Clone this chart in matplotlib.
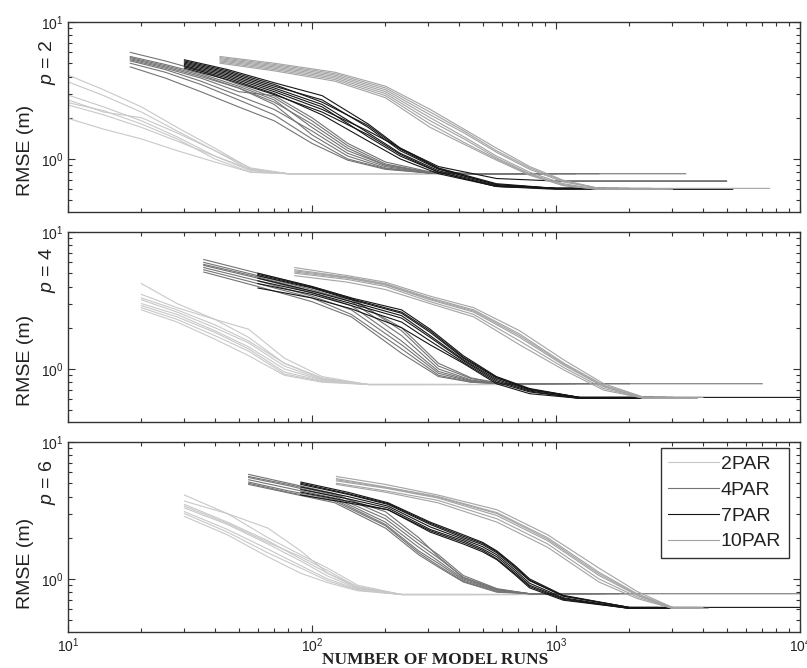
import matplotlib
matplotlib.use('Agg')
import matplotlib.pyplot as plt
from matplotlib.ticker import LogLocator, NullFormatter

# ==================== data ====================
GROUPS = ['2PAR', '4PAR', '7PAR', '10PAR']
P_VALUES = [2, 4, 6]

# ---- p = 2 ----
P2_2PAR_RUNS = [10, 14, 20, 28, 40, 56, 80]
P2_2PAR_RMSE = [
    [4.1, 3.2, 2.4, 1.7, 1.2, 0.85, 0.78],
    [3.66, 2.9, 2.2, 1.6, 1.15, 0.83, 0.78],
    [2.93, 2.4, 1.9, 1.45, 1.05, 0.82, 0.78],
    [2.70, 2.2, 2.0, 1.55, 1.15, 0.86, 0.78],
    [2.58, 2.25, 1.8, 1.4, 1.0, 0.80, 0.78],
    [2.48, 2.1, 1.7, 1.35, 1.05, 0.84, 0.78],
    [1.98, 1.65, 1.4, 1.15, 0.95, 0.80, 0.78],
]
P2_2PAR_END = [1200, 300, 500, 200, 800, 150, 400]

P2_4PAR_RUNS = [18, 25, 35, 50, 70, 100, 140, 200, 300, 450]
P2_4PAR_RMSE = [
    [6.0, 5.2, 4.4, 3.5, 2.8, 1.9, 1.25, 0.92, 0.80, 0.78],
    [5.6, 4.9, 4.2, 3.4, 2.7, 1.7, 1.15, 0.90, 0.80, 0.78],
    [5.4, 4.7, 4.0, 3.3, 2.5, 1.5, 1.05, 0.86, 0.79, 0.78],
    [5.3, 4.6, 3.9, 3.1, 2.9, 2.0, 1.3, 0.95, 0.81, 0.78],
    [5.2, 4.5, 3.7, 2.9, 2.3, 1.6, 1.1, 0.88, 0.79, 0.78],
    [5.0, 4.3, 3.5, 2.7, 2.1, 1.4, 1.0, 0.85, 0.79, 0.78],
    [4.7, 3.9, 3.1, 2.4, 1.9, 1.3, 0.98, 0.84, 0.79, 0.78],
    [5.5, 4.8, 4.1, 3.3, 2.6, 1.8, 1.2, 0.90, 0.80, 0.78],
]
P2_4PAR_END = [3400, 1000, 700, 1500, 900, 600, 1200, 800]

P2_7PAR_RUNS = [30, 45, 70, 110, 170, 230, 330, 570, 1000]
P2_7PAR_RMSE = [
    [5.3, 4.5, 3.6, 2.9, 1.8, 1.2, 0.86, 0.66, 0.61],
    [5.1, 4.3, 3.4, 2.7, 1.7, 1.15, 0.84, 0.65, 0.61],
    [5.0, 4.2, 3.3, 2.5, 1.55, 1.1, 0.82, 0.64, 0.61],
    [4.9, 4.1, 3.2, 2.4, 1.45, 1.05, 0.80, 0.63, 0.61],
    [4.8, 4.0, 3.1, 2.3, 1.6, 1.2, 0.88, 0.72, 0.69],
    [4.7, 3.9, 3.0, 2.1, 1.35, 1.0, 0.78, 0.63, 0.60],
    [5.2, 4.4, 3.5, 2.6, 1.75, 1.18, 0.85, 0.65, 0.61],
    [4.6, 3.8, 2.95, 2.2, 1.5, 1.08, 0.80, 0.63, 0.61],
]
P2_7PAR_END = [1500, 2000, 1200, 1800, 5000, 5300, 1400, 1600]

P2_10PAR_RUNS = [42, 70, 124, 200, 305, 420, 570, 780, 1070, 1500]
P2_10PAR_RMSE = [
    [5.6, 5.0, 4.3, 3.4, 2.3, 1.65, 1.2, 0.88, 0.70, 0.61],
    [5.4, 4.8, 4.1, 3.2, 2.1, 1.55, 1.12, 0.84, 0.68, 0.61],
    [5.3, 4.7, 4.0, 3.1, 2.0, 1.45, 1.05, 0.80, 0.66, 0.60],
    [5.2, 4.6, 3.9, 3.0, 1.9, 1.40, 1.02, 0.78, 0.65, 0.60],
    [5.1, 4.5, 3.8, 2.9, 1.8, 1.32, 1.0, 0.77, 0.64, 0.60],
    [5.0, 4.4, 3.7, 2.8, 1.7, 1.28, 0.98, 0.76, 0.64, 0.60],
    [5.5, 4.9, 4.2, 3.3, 2.2, 1.6, 1.15, 0.86, 0.69, 0.61],
]
P2_10PAR_END = [7500, 2500, 3000, 2000, 2200, 2800, 2400]

# ---- p = 4 ----
P4_2PAR_RUNS = [20, 28, 40, 55, 77, 110, 170]
P4_2PAR_RMSE = [
    [4.2, 3.0, 2.3, 1.7, 1.1, 0.85, 0.77],
    [3.5, 2.8, 2.3, 1.95, 1.2, 0.88, 0.77],
    [3.2, 2.6, 2.0, 1.55, 1.05, 0.84, 0.77],
    [3.0, 2.5, 1.9, 1.45, 1.0, 0.83, 0.77],
    [2.9, 2.4, 1.85, 1.4, 0.95, 0.82, 0.77],
    [2.8, 2.3, 1.75, 1.35, 0.92, 0.81, 0.77],
    [2.7, 2.2, 1.65, 1.25, 0.90, 0.80, 0.77],
    [3.3, 2.7, 2.1, 1.6, 1.1, 0.86, 0.77],
]
P4_2PAR_END = [400, 600, 300, 800, 500, 350, 700, 450]

P4_4PAR_RUNS = [36, 60, 100, 145, 233, 330, 450, 600]
P4_4PAR_RMSE = [
    [6.3, 5.0, 4.0, 3.3, 1.9, 1.05, 0.85, 0.78],
    [6.0, 4.8, 3.8, 3.1, 1.75, 1.0, 0.83, 0.78],
    [5.7, 4.6, 3.6, 2.9, 1.6, 0.96, 0.82, 0.78],
    [5.5, 4.4, 3.4, 2.7, 1.5, 0.93, 0.81, 0.78],
    [5.3, 4.2, 3.3, 2.5, 1.4, 0.90, 0.80, 0.78],
    [5.1, 4.0, 3.1, 2.4, 1.3, 0.88, 0.80, 0.78],
    [5.8, 4.7, 3.7, 3.2, 2.0, 1.1, 0.86, 0.78],
]
P4_4PAR_END = [7000, 1000, 1500, 1200, 900, 2000, 1100]

P4_7PAR_RUNS = [60, 100, 145, 233, 305, 417, 570, 780, 1250]
P4_7PAR_RMSE = [
    [5.0, 4.0, 3.3, 2.7, 1.95, 1.25, 0.88, 0.72, 0.62],
    [4.8, 3.9, 3.2, 2.55, 1.85, 1.2, 0.86, 0.71, 0.62],
    [4.6, 3.7, 3.1, 2.45, 1.75, 1.17, 0.84, 0.70, 0.62],
    [4.4, 3.6, 3.0, 2.35, 1.7, 1.15, 0.82, 0.69, 0.61],
    [4.2, 3.5, 2.9, 2.2, 1.6, 1.12, 0.80, 0.68, 0.61],
    [3.9, 3.3, 2.75, 2.0, 1.5, 1.1, 0.78, 0.66, 0.61],
    [4.9, 3.95, 3.25, 2.6, 1.9, 1.22, 0.87, 0.71, 0.62],
]
P4_7PAR_END = [10000, 3000, 2500, 2000, 3500, 2200, 2800]

P4_10PAR_RUNS = [85, 140, 200, 305, 460, 710, 1080, 1570, 2300]
P4_10PAR_RMSE = [
    [5.5, 4.8, 4.3, 3.4, 2.8, 1.9, 1.16, 0.78, 0.62],
    [5.3, 4.7, 4.2, 3.3, 2.7, 1.8, 1.1, 0.76, 0.62],
    [5.1, 4.6, 4.1, 3.2, 2.6, 1.7, 1.06, 0.74, 0.61],
    [5.0, 4.5, 4.0, 3.1, 2.5, 1.6, 1.02, 0.72, 0.61],
    [4.8, 4.3, 3.8, 3.0, 2.4, 1.5, 0.98, 0.70, 0.61],
    [5.2, 4.65, 4.15, 3.25, 2.65, 1.75, 1.08, 0.75, 0.61],
]
P4_10PAR_END = [4000, 3500, 3000, 3800, 3200, 3600]

# ---- p = 6 ----
P6_2PAR_RUNS = [30, 45, 66, 90, 116, 154, 233]
P6_2PAR_RMSE = [
    [4.1, 3.0, 2.0, 1.5, 1.2, 0.90, 0.77],
    [3.7, 3.0, 2.35, 1.6, 1.1, 0.88, 0.77],
    [3.5, 2.6, 1.9, 1.4, 1.1, 0.86, 0.77],
    [3.3, 2.5, 1.8, 1.35, 1.05, 0.85, 0.77],
    [3.1, 2.3, 1.65, 1.25, 1.0, 0.84, 0.77],
    [3.0, 2.2, 1.55, 1.2, 0.97, 0.83, 0.77],
    [2.86, 2.1, 1.45, 1.1, 0.94, 0.82, 0.77],
    [3.4, 2.55, 1.85, 1.45, 1.15, 0.87, 0.77],
]
P6_2PAR_END = [500, 800, 600, 1000, 700, 450, 900, 650]

P6_4PAR_RUNS = [55, 80, 124, 200, 274, 330, 417, 573, 780]
P6_4PAR_RMSE = [
    [5.8, 5.0, 4.2, 2.9, 1.9, 1.5, 1.06, 0.85, 0.78],
    [5.5, 4.8, 4.0, 2.75, 1.8, 1.42, 1.03, 0.84, 0.78],
    [5.3, 4.6, 3.9, 2.6, 1.7, 1.35, 1.0, 0.83, 0.78],
    [5.1, 4.4, 3.8, 2.5, 1.6, 1.3, 0.98, 0.82, 0.78],
    [4.9, 4.25, 3.6, 2.35, 1.5, 1.22, 0.95, 0.80, 0.78],
    [5.6, 4.9, 4.1, 3.1, 2.0, 1.45, 1.02, 0.84, 0.78],
    [5.0, 4.3, 3.7, 2.45, 1.55, 1.25, 0.96, 0.81, 0.78],
]
P6_4PAR_END = [10000, 1500, 2000, 1200, 1800, 1400, 1600]

P6_7PAR_RUNS = [90, 140, 205, 305, 417, 500, 573, 680, 780, 1070, 2000]
P6_7PAR_RMSE = [
    [5.1, 4.3, 3.6, 2.6, 2.1, 1.85, 1.6, 1.25, 1.0, 0.76, 0.62],
    [4.9, 4.15, 3.5, 2.5, 2.0, 1.78, 1.55, 1.2, 0.97, 0.75, 0.62],
    [4.7, 4.0, 3.4, 2.4, 1.95, 1.72, 1.5, 1.16, 0.93, 0.73, 0.61],
    [4.5, 3.85, 3.3, 2.3, 1.9, 1.66, 1.45, 1.12, 0.90, 0.72, 0.61],
    [4.3, 3.7, 3.2, 2.2, 1.8, 1.58, 1.38, 1.07, 0.86, 0.70, 0.61],
    [4.1, 3.6, 3.2, 2.25, 1.85, 1.62, 1.4, 1.09, 0.88, 0.71, 0.61],
    [5.0, 4.2, 3.55, 2.55, 2.05, 1.82, 1.58, 1.23, 0.98, 0.75, 0.62],
]
P6_7PAR_END = [10000, 3000, 2500, 3500, 2800, 3200, 2600]

P6_10PAR_RUNS = [126, 200, 328, 573, 925, 1500, 2150, 3000]
P6_10PAR_RMSE = [
    [5.6, 4.9, 4.1, 3.2, 2.1, 1.2, 0.81, 0.62],
    [5.4, 4.7, 4.0, 3.05, 2.0, 1.12, 0.78, 0.62],
    [5.2, 4.6, 3.9, 2.9, 1.9, 1.06, 0.76, 0.61],
    [5.0, 4.4, 3.75, 2.75, 1.8, 1.0, 0.74, 0.61],
    [4.9, 4.3, 3.6, 2.6, 1.7, 0.95, 0.72, 0.61],
    [5.3, 4.65, 3.95, 3.0, 1.95, 1.09, 0.77, 0.61],
]
P6_10PAR_END = [4000, 3800, 3500, 4200, 3600, 3900]

# ==================== style ====================
COLORS = ['#c8c8c8', '#747474', '#151515', '#a3a3a3']
TEXT_C = '#222222'

plt.rcParams['font.family'] = ['Liberation Sans', 'DejaVu Sans']
plt.rcParams['mathtext.fontset'] = 'custom'
plt.rcParams['mathtext.rm'] = 'Liberation Sans'
plt.rcParams['mathtext.it'] = 'Liberation Sans:italic'

panels = [
    [(P2_2PAR_RUNS, P2_2PAR_RMSE, P2_2PAR_END),
     (P2_4PAR_RUNS, P2_4PAR_RMSE, P2_4PAR_END),
     (P2_7PAR_RUNS, P2_7PAR_RMSE, P2_7PAR_END),
     (P2_10PAR_RUNS, P2_10PAR_RMSE, P2_10PAR_END)],
    [(P4_2PAR_RUNS, P4_2PAR_RMSE, P4_2PAR_END),
     (P4_4PAR_RUNS, P4_4PAR_RMSE, P4_4PAR_END),
     (P4_7PAR_RUNS, P4_7PAR_RMSE, P4_7PAR_END),
     (P4_10PAR_RUNS, P4_10PAR_RMSE, P4_10PAR_END)],
    [(P6_2PAR_RUNS, P6_2PAR_RMSE, P6_2PAR_END),
     (P6_4PAR_RUNS, P6_4PAR_RMSE, P6_4PAR_END),
     (P6_7PAR_RUNS, P6_7PAR_RMSE, P6_7PAR_END),
     (P6_10PAR_RUNS, P6_10PAR_RMSE, P6_10PAR_END)],
]

W, H = 807, 668
fig = plt.figure(figsize=(W / 100, H / 100), dpi=100)

# panel tops in pixels
tops = [22, 232, 442]
ax_h = 190
lab_p_y = [62, 270, 482]
lab_rmse_y = [150, 360, 563]

for i, (pval, groups) in enumerate(zip(P_VALUES, panels)):
    ax = fig.add_axes([68 / W, 1 - (tops[i] + ax_h) / H, 732 / W, ax_h / H])
    for (runs, rmse, ends), color, name in zip(groups, COLORS, GROUPS):
        for k, (row, end) in enumerate(zip(rmse, ends)):
            xs = list(runs[:len(row)]) + [end]
            ys = list(row) + [row[-1]]
            ax.plot(xs, ys, color=color, lw=0.8,
                    label=name if k == 0 else None)

    ax.set_xscale('log')
    ax.set_yscale('log')
    ax.set_xlim(10, 1e4)
    ax.set_ylim(0.41, 10)
    ax.yaxis.set_major_locator(LogLocator(base=10, numticks=5))
    ax.yaxis.set_minor_locator(LogLocator(base=10, subs=range(2, 10), numticks=10))
    ax.yaxis.set_minor_formatter(NullFormatter())
    ax.xaxis.set_minor_formatter(NullFormatter())
    ax.tick_params(which='both', direction='in', top=True, right=True,
                   colors='#333333', labelcolor=TEXT_C, labelsize=10)
    ax.tick_params(which='major', length=5, width=0.8)
    ax.tick_params(which='minor', length=3, width=0.8)
    for sp in ax.spines.values():
        sp.set_color('#333333')
        sp.set_linewidth(1.0)
    if i < 2:
        ax.tick_params(labelbottom=False)

    fig.text(25 / W, 1 - lab_rmse_y[i] / H, 'RMSE (m)', rotation=90,
             ha='center', va='center', fontsize=14, color=TEXT_C)
    fig.text(48 / W, 1 - lab_p_y[i] / H, r'$p$ = %d' % pval, rotation=90,
             ha='center', va='center', fontsize=14, color=TEXT_C)

    if i == 2:
        leg = ax.legend(loc='upper right', bbox_to_anchor=(0.985, 0.97),
                        fontsize=14, handlelength=2.6, handletextpad=0.1,
                        labelspacing=0.42, borderpad=0.4, fancybox=False,
                        framealpha=1, borderaxespad=0)
        leg.get_frame().set_edgecolor('#333333')
        leg.get_frame().set_linewidth(1.0)
        for t in leg.get_texts():
            t.set_color(TEXT_C)

fig.text(435 / W, 1 - 652 / H, 'NUMBER OF MODEL RUNS', ha='center', va='top',
         fontsize=12.5, fontweight='bold', family='Liberation Serif',
         color=TEXT_C)

fig.savefig('out.png', dpi=100)
